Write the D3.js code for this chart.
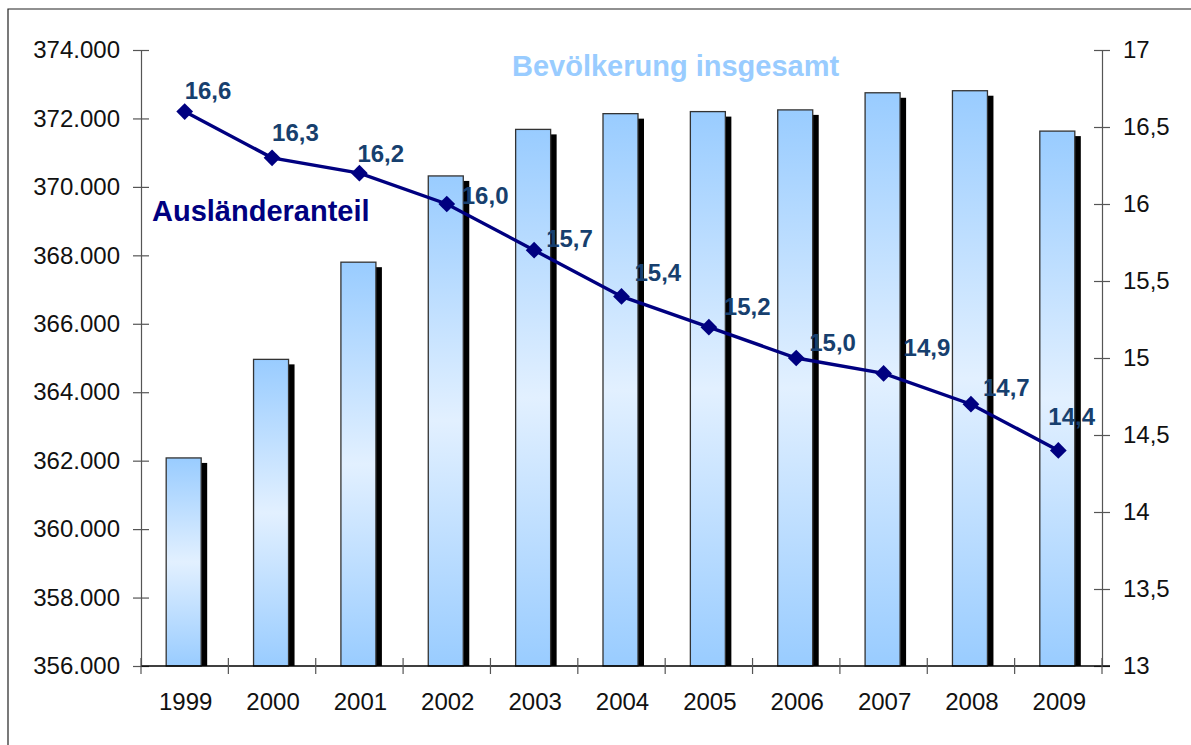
<!DOCTYPE html>
<html>
<head>
<meta charset="utf-8">
<script src="https://cdn.jsdelivr.net/npm/d3@7/dist/d3.min.js"></script>
<style>
  html, body { margin: 0; padding: 0; background: #fff; }
  svg { display: block; font-family: "Liberation Sans", Arial, sans-serif; }
</style>
</head>
<body>
<script>
// --- data ---
const years = ["1999", "2000", "2001", "2002", "2003", "2004", "2005", "2006", "2007", "2008", "2009"];
const population = [362080, 364960, 367800, 370320, 371680, 372140, 372200, 372250, 372750, 372810, 371630];
const foreignShare = [16.6, 16.3, 16.2, 16.0, 15.7, 15.4, 15.2, 15.0, 14.9, 14.7, 14.4];
const leftTicks = [356000, 358000, 360000, 362000, 364000, 366000, 368000, 370000, 372000, 374000];
const rightTicks = [13, 13.5, 14, 14.5, 15, 15.5, 16, 16.5, 17];

// label nudges (dx, dy) to mimic hand-placed data labels
const labelNudge = [[0, -21], [0, -25], [-2, -20], [15, -8], [12, -12], [13, -24],
                    [15, -21], [13, -15], [20, -26], [12, -17], [-10, -34]];

const W = 1191, H = 745;
const plot = { left: 141, right: 1102, top: 50, bottom: 666 };

const svg = d3.select("body").append("svg")
  .attr("width", W)
  .attr("height", H);

// outer frame (only top and left edges visible in the original)
svg.append("path")
  .attr("d", `M8,${H} V9 H${W}`)
  .attr("fill", "none")
  .attr("stroke", "#222")
  .attr("stroke-width", 1.2);

// bar gradient: blue at the ends, pale in the middle
const defs = svg.append("defs");
const grad = defs.append("linearGradient")
  .attr("id", "barGrad")
  .attr("x1", 0).attr("y1", 0).attr("x2", 0).attr("y2", 1);
grad.append("stop").attr("offset", "0%").attr("stop-color", "#99ccff");
grad.append("stop").attr("offset", "50%").attr("stop-color", "#e2f0ff");
grad.append("stop").attr("offset", "100%").attr("stop-color", "#99ccff");

const x = d3.scaleBand()
  .domain(years)
  .range([plot.left, plot.right]);

const yLeft = d3.scaleLinear()
  .domain([356000, 374000])
  .range([plot.bottom, plot.top]);

const yRight = d3.scaleLinear()
  .domain([13, 17])
  .range([plot.bottom, plot.top]);

const fmtLeft = (d) => d3.format(",")(d).replace(/,/g, ".");
const fmtRight = (d) => String(d).replace(".", ",");
const tickFont = 24;

// left axis
const leftAxis = svg.append("g")
  .attr("transform", `translate(${plot.left},0)`)
  .call(d3.axisLeft(yLeft).tickValues(leftTicks).tickFormat(fmtLeft).tickSize(8));
leftAxis.selectAll(".tick line").attr("x2", 8).attr("x1", -8);
leftAxis.select(".domain").attr("stroke", "#555").attr("stroke-width", 1.2);
leftAxis.selectAll(".tick line").attr("stroke", "#555").attr("stroke-width", 1.2);
leftAxis.selectAll("text")
  .attr("font-size", tickFont)
  .attr("fill", "#111")
  .attr("font-family", "Liberation Sans, Arial, sans-serif")
  .attr("x", -21);

// right axis
const rightAxis = svg.append("g")
  .attr("transform", `translate(${plot.right},0)`)
  .call(d3.axisRight(yRight).tickValues(rightTicks).tickFormat(fmtRight).tickSize(8));
rightAxis.selectAll(".tick line").attr("x1", -8).attr("x2", 8);
rightAxis.select(".domain").attr("stroke", "#555").attr("stroke-width", 1.2);
rightAxis.selectAll(".tick line").attr("stroke", "#555").attr("stroke-width", 1.2);
rightAxis.selectAll("text")
  .attr("font-size", tickFont)
  .attr("fill", "#111")
  .attr("font-family", "Liberation Sans, Arial, sans-serif")
  .attr("x", 21);

// bars with a hard drop shadow
const barW = 35;
const barX = (d, i) => x(years[i]) + x.bandwidth() / 2 - barW / 2 - 1;

svg.append("g").selectAll("rect.shadow")
  .data(population)
  .join("rect")
  .attr("class", "shadow")
  .attr("x", (d, i) => barX(d, i) + 6)
  .attr("y", (d) => yLeft(d) + 5)
  .attr("width", barW)
  .attr("height", (d) => plot.bottom - yLeft(d) - 5)
  .attr("fill", "#000");

svg.append("g").selectAll("rect.bar")
  .data(population)
  .join("rect")
  .attr("class", "bar")
  .attr("x", barX)
  .attr("y", (d) => yLeft(d))
  .attr("width", barW)
  .attr("height", (d) => plot.bottom - yLeft(d))
  .attr("fill", "url(#barGrad)")
  .attr("stroke", "#333")
  .attr("stroke-width", 1.3);

// x axis (category ticks between bars)
const xAxisG = svg.append("g")
  .attr("transform", `translate(0,${plot.bottom})`);
xAxisG.append("line")
  .attr("x1", plot.left).attr("x2", plot.right + 8)
  .attr("stroke", "#000").attr("stroke-width", 1.4);
const boundaries = years.map((y) => x(y)).concat([plot.right]);
xAxisG.selectAll("line.tick")
  .data(boundaries)
  .join("line")
  .attr("class", "tick")
  .attr("x1", (d) => d).attr("x2", (d) => d)
  .attr("y1", -8).attr("y2", 8)
  .attr("stroke", "#555").attr("stroke-width", 1.2);
xAxisG.selectAll("text")
  .data(years)
  .join("text")
  .attr("x", (d) => x(d) + x.bandwidth() / 2 + 1)
  .attr("y", 44)
  .attr("text-anchor", "middle")
  .attr("font-size", tickFont)
  .attr("fill", "#111")
  .text((d) => d);

// foreign share line
const line = d3.line()
  .x((d, i) => x(years[i]) + x.bandwidth() / 2)
  .y((d) => yRight(d));

svg.append("path")
  .datum(foreignShare)
  .attr("d", line)
  .attr("fill", "none")
  .attr("stroke", "#000080")
  .attr("stroke-width", 3.4);

svg.append("g").selectAll("path.marker")
  .data(foreignShare)
  .join("path")
  .attr("class", "marker")
  .attr("d", d3.symbol(d3.symbolSquare, 140))
  .attr("transform", (d, i) => `translate(${x(years[i]) + x.bandwidth() / 2},${yRight(d)}) rotate(45)`)
  .attr("fill", "#000080");

svg.append("g").selectAll("text.label")
  .data(foreignShare)
  .join("text")
  .attr("class", "label")
  .attr("x", (d, i) => x(years[i]) + x.bandwidth() / 2 + labelNudge[i][0])
  .attr("y", (d, i) => yRight(d) + labelNudge[i][1])
  .attr("dy", "0.35em")
  .attr("font-size", 24)
  .attr("font-weight", "bold")
  .attr("fill", "#173f6e")
  .text((d) => d3.format(".1f")(d).replace(".", ","));

// series titles
svg.append("text")
  .attr("x", 512).attr("y", 66)
  .attr("dy", "0.35em")
  .attr("font-size", 29)
  .attr("font-weight", "bold")
  .attr("fill", "#99ccff")
  .text("Bevölkerung insgesamt");

svg.append("text")
  .attr("x", 152).attr("y", 211)
  .attr("dy", "0.35em")
  .attr("font-size", 29)
  .attr("font-weight", "bold")
  .attr("fill", "#000080")
  .text("Ausländeranteil");
</script>
</body>
</html>
